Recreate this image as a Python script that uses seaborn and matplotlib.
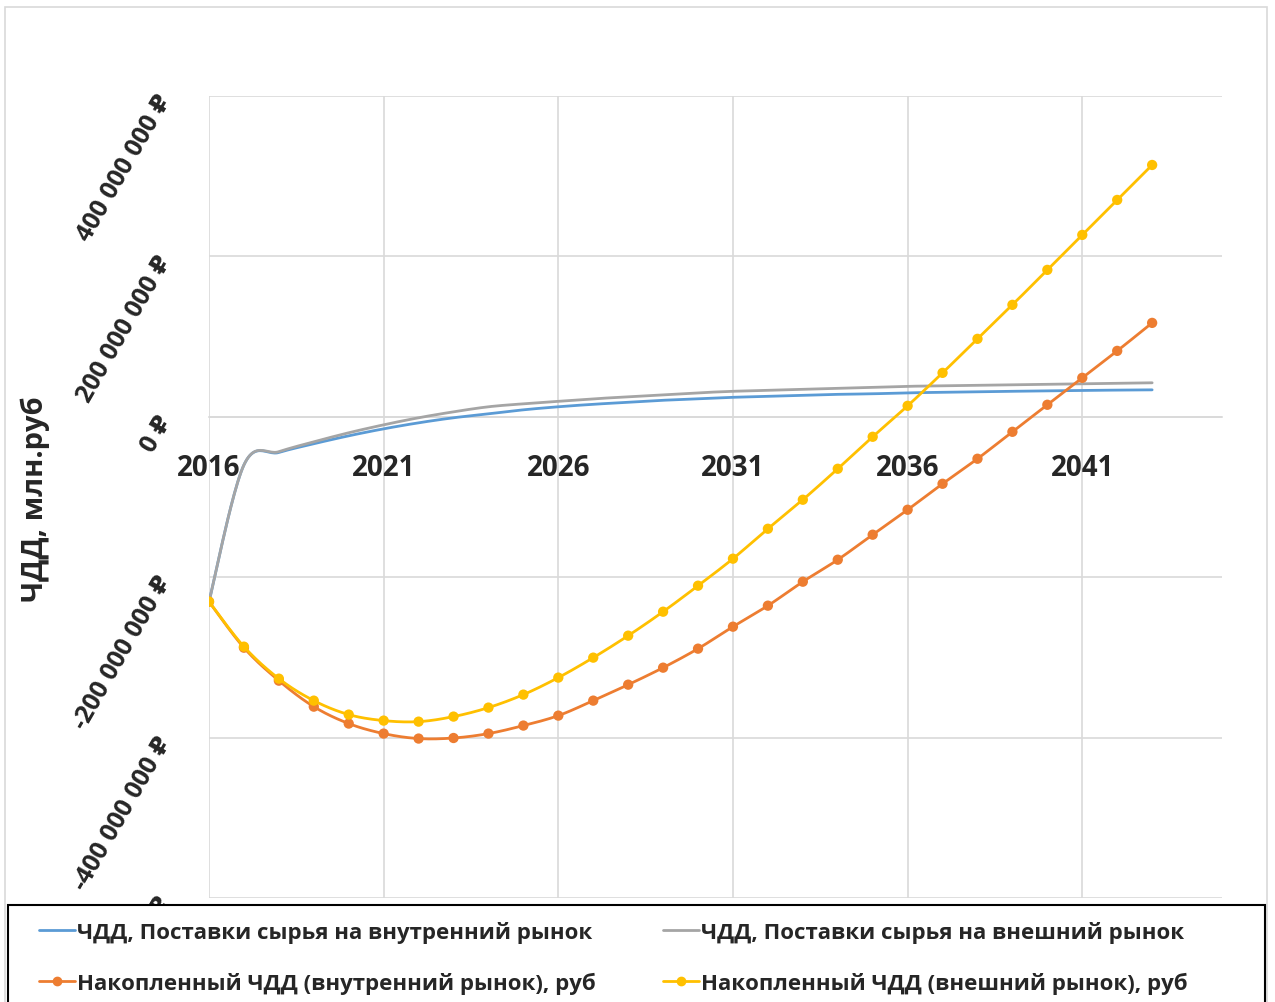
"""NPV chart: annual and cumulative NPV for domestic vs export supply."""

import numpy as np
import matplotlib
matplotlib.use("Agg")
import matplotlib.pyplot as plt
from matplotlib.lines import Line2D
from matplotlib.patches import Rectangle
import seaborn as sns

years = list(range(2016, 2044))

# values in millions of rubles
npv_domestic = [-230.5, -60.0, -44.5, -33.6, -23.7, -15.0, -7.5, -1.2, 3.7, 8.7,
                12.5, 15.6, 18.1, 20.6, 22.4, 24.3, 25.5, 26.8, 28.0, 28.7,
                29.9, 30.5, 31.2, 31.8, 32.4, 32.8, 33.3, 33.6]
npv_export = [-230.5, -60.0, -43.5, -31.2, -19.9, -10.0, -1.2, 6.2, 12.5, 16.2,
              19.3, 22.4, 24.9, 27.4, 29.9, 31.8, 33.0, 34.3, 35.5, 36.8,
              38.0, 38.6, 39.3, 39.9, 40.5, 41.1, 41.7, 42.4]
cum_domestic = [-230.5, -287.9, -329.0, -361.4, -382.5, -395.0, -401.2, -400.5,
                -395.0, -385.0, -372.6, -353.9, -334.0, -312.8, -289.1, -261.7,
                -235.5, -205.6, -178.2, -147.0, -115.9, -83.5, -52.3, -18.7,
                15.0, 48.6, 82.2, 117.1]
cum_export = [-230.5, -286.6, -326.5, -353.9, -371.3, -378.8, -380.1, -373.8,
              -362.6, -346.4, -325.2, -300.3, -272.9, -243.0, -210.6, -176.9,
              -139.6, -103.4, -64.8, -24.9, 13.7, 54.8, 97.2, 139.6, 183.2,
              226.8, 270.4, 314.0]

labels = [
    "ЧДД, Поставки сырья на внутренний рынок",
    "ЧДД, Поставки сырья на внешний рынок",
    "Накопленный ЧДД (внутренний рынок), руб",
    "Накопленный ЧДД (внешний рынок), руб",
]
colors = ["#5B9BD5", "#A5A5A5", "#ED7D31", "#FFC000"]
y_ticks = [-600, -400, -200, 0, 200, 400]
x_ticks = [2016, 2021, 2026, 2031, 2036, 2041]


def smooth(x, y, n=24):
    """Catmull-Rom curve through the points, like Excel's smoothed line."""
    x = np.asarray(x, float)
    y = np.asarray(y, float)
    xp = np.r_[x[0], x, x[-1]]
    yp = np.r_[y[0], y, y[-1]]
    t = np.linspace(0, 1, n, endpoint=False)
    xs, ys = [], []
    for i in range(len(x) - 1):
        for p, out in ((xp, xs), (yp, ys)):
            p0, p1, p2, p3 = p[i:i + 4]
            out.append(0.5 * (2 * p1 + (-p0 + p2) * t
                              + (2 * p0 - 5 * p1 + 4 * p2 - p3) * t ** 2
                              + (-p0 + 3 * p1 - 3 * p2 + p3) * t ** 3))
    xs.append([x[-1]])
    ys.append([y[-1]])
    return np.concatenate(xs), np.concatenate(ys)


sns.set_style("white")
plt.rcParams["font.family"] = ["Open Sans", "DejaVu Sans"]
plt.rcParams["font.weight"] = "bold"

W, H = 1275, 1003
fig = plt.figure(figsize=(W / 100, H / 100), dpi=100)
ax = fig.add_axes([209 / W, 1 - 899 / H, (1222 - 209) / W, (899 - 97) / H])

series = [npv_domestic, npv_export, cum_domestic, cum_export]
for i, vals in enumerate(series):
    xs, ys = smooth(years, np.array(vals) * 1e6)
    sns.lineplot(x=xs, y=ys, ax=ax, color=colors[i], linewidth=2.0,
                 estimator=None, sort=False, zorder=3 + i)
    if i >= 2:
        sns.scatterplot(x=years, y=np.array(vals) * 1e6, ax=ax, color=colors[i],
                        s=55, edgecolor="none", zorder=3 + i)

grid_c = "#D9D9D9"
for s in ["top", "right", "left"]:
    ax.spines[s].set_visible(False)
# x axis crosses at zero (set before tick labels, it resets the ticks)
ax.spines["bottom"].set_position(("data", 0))
ax.spines["bottom"].set_color(grid_c)
ax.spines["bottom"].set_linewidth(1.2)

ax.set_xlim(2016, 2045)
ax.set_ylim(-600e6, 400e6)
ax.set_xticks(x_ticks)
ax.set_yticks([v * 1e6 for v in y_ticks])
ax.set_xticklabels([str(v) for v in x_ticks], fontsize=20, fontweight="bold")
ax.set_yticklabels([f"{v * 1_000_000:,.0f}".replace(",", " ") + " ₽" for v in y_ticks],
                   fontsize=18, fontweight="bold", rotation=60,
                   rotation_mode="anchor", ha="right", va="center")
ax.grid(True, color=grid_c, linewidth=1.2)
ax.tick_params(axis="x", length=0, pad=26, labelsize=20)
ax.tick_params(axis="y", length=0, pad=31)
ax.set_xlabel("")
ax.set_ylabel("")

fig.text(35 / W, 1 - 499 / H, "ЧДД, млн.руб", rotation=90, fontsize=21,
         fontweight="bold", ha="center", va="center")

# outer chart frame and legend box
fig.patches.append(Rectangle((5 / W, -0.01), (1267 - 5) / W, 1 - 8 / H + 0.01,
                             transform=fig.transFigure, facecolor="none",
                             edgecolor=grid_c, linewidth=1.2, zorder=0))
fig.patches.append(Rectangle((8 / W, -0.02), (1265 - 8) / W, 1 - 906 / H + 0.02,
                             transform=fig.transFigure, facecolor="white",
                             edgecolor="black", linewidth=1.5, zorder=2))

handles = []
for i, c in enumerate(colors):
    handles.append(Line2D([], [], color=c, linewidth=2,
                          marker="o" if i >= 2 else None, markersize=6))

for col, x0 in enumerate([28, 652]):
    idx = [col, col + 2]
    leg = fig.legend([handles[k] for k in idx], [labels[k] for k in idx],
                     loc="upper left", bbox_to_anchor=(x0 / W, 1 - 911 / H),
                     frameon=False, fontsize=16, handlelength=1.6,
                     handletextpad=0.1, labelspacing=1.28, borderpad=0)
    for t in leg.get_texts():
        t.set_fontweight("bold")
    leg.set_zorder(6)

fig.savefig("out.png", dpi=100)
